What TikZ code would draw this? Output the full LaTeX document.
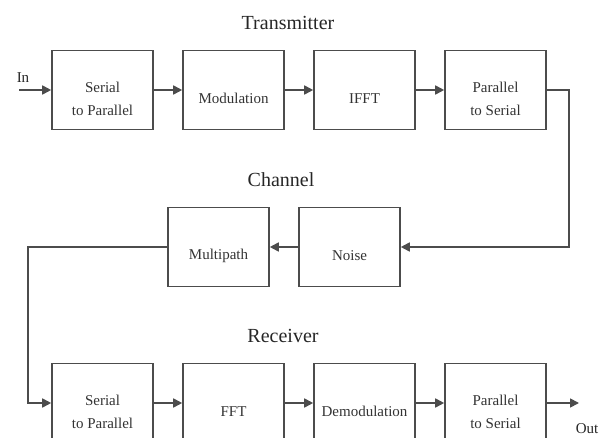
\documentclass[tikz,border=0pt]{standalone}
\usepackage{fontspec}
\setmainfont{Liberation Serif}
\usetikzlibrary{positioning,arrows.meta}

\begin{document}
\begin{tikzpicture}[x=1pt,y=-1pt,node distance=131pt,on grid,
    block/.style={draw=black!70,line width=1.6pt,minimum width=101pt,minimum height=79pt,
      align=center,text=black!80,font=\fontsize{15}{23}\selectfont,
      execute at begin node={\rule{0pt}{28pt}}},
    twoline/.style={block,execute at begin node={\rule{0pt}{51pt}}},
    title/.style={text=black!85,font=\fontsize{20}{24}\selectfont},
    io/.style={text=black!85,font=\fontsize{15}{17}\selectfont,inner sep=0pt},
    flow/.style={draw=black!70,line width=1.7pt,-{Triangle[length=9pt,width=9pt]}}]
    \clip (0,0) rectangle (600,438);
    % transmitter
    \node[title] (tx) at (288,23) {Transmitter};
    \node[twoline] (s2p) at (102.5,90) {Serial\\to Parallel};
    \node[block] (mod) [right=of s2p] {Modulation};
    \node[block] (ifft) [right=of mod] {IFFT};
    \node[twoline] (p2s) [right=of ifft] {Parallel\\to Serial};
    \node[io] (inlabel) at (23,78) {In};
    \coordinate (inpt) at (19,90);
    % channel
    \node[title] (ch) at (281,180) {Channel};
    \node[block] (noise) at (349.5,247) {Noise};
    \node[block] (mpath) [left=of noise] {Multipath};
    \coordinate (rcorner) at (569,247);
    \coordinate (lcorner) at (28,247);
    % receiver
    \node[title] (rx) at (283,336) {Receiver};
    \node[twoline] (rs2p) at (102.5,403) {Serial\\to Parallel};
    \node[block] (fft) [right=of rs2p] {FFT};
    \node[block] (demod) [right=of fft] {Demodulation};
    \node[twoline] (rp2s) [right=of demod] {Parallel\\to Serial};
    \node[io] (outlabel) at (587,429) {Out};
    \coordinate (outpt) at (579,403);
    \draw[flow] (inpt) -- (s2p);
    \draw[flow] (s2p) -- (mod);
    \draw[flow] (mod) -- (ifft);
    \draw[flow] (ifft) -- (p2s);
    \draw[flow] (p2s.east) -| (rcorner) -- (noise.east);
    \draw[flow] (noise) -- (mpath);
    \draw[flow] (mpath.west) -- (lcorner) |- (rs2p.west);
    \draw[flow] (rs2p) -- (fft);
    \draw[flow] (fft) -- (demod);
    \draw[flow] (demod) -- (rp2s);
    \draw[flow] (rp2s) -- (outpt);
\end{tikzpicture}
\end{document}
